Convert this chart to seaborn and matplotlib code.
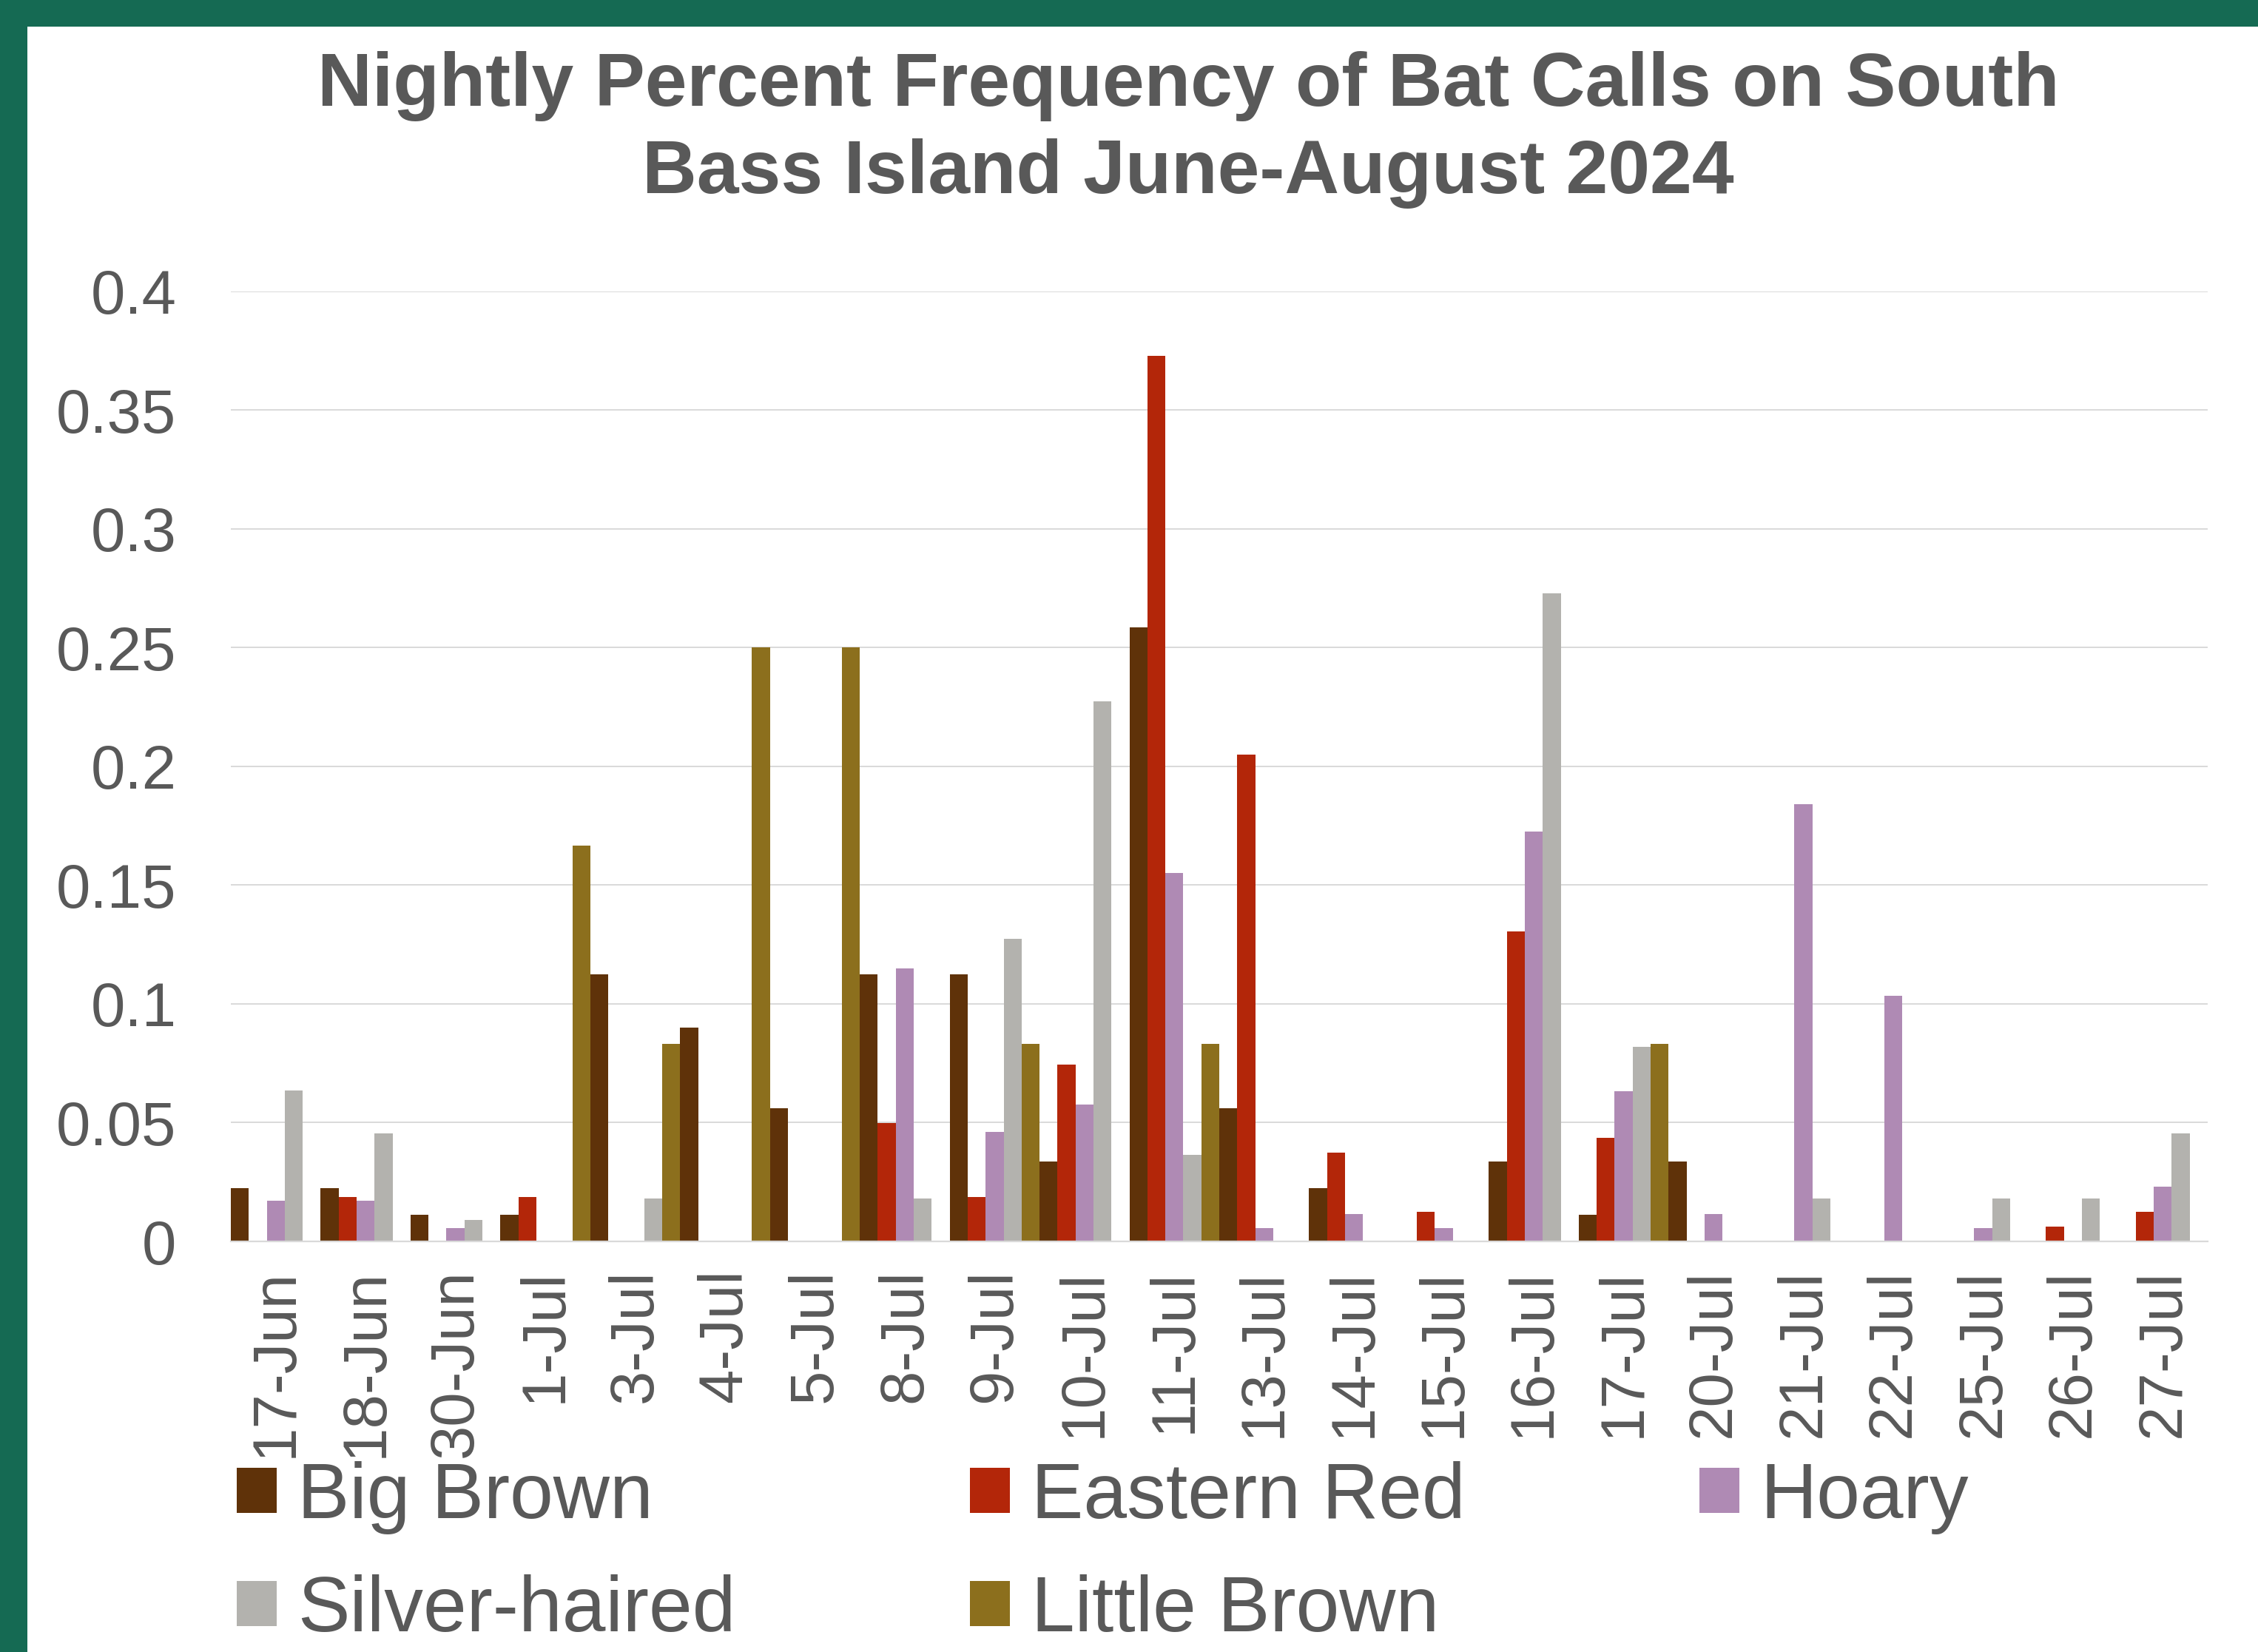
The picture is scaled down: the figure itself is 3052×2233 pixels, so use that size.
import matplotlib
matplotlib.use("Agg")
import matplotlib.pyplot as plt
from matplotlib.patches import Rectangle, Patch
from matplotlib.ticker import FuncFormatter, MultipleLocator
import numpy as np
import pandas as pd
import seaborn as sns

# ---- data -------------------------------------------------------------
dates = ["17-Jun", "18-Jun", "30-Jun", "1-Jul", "3-Jul", "4-Jul", "5-Jul",
         "8-Jul", "9-Jul", "10-Jul", "11-Jul", "13-Jul", "14-Jul", "15-Jul",
         "16-Jul", "17-Jul", "20-Jul", "21-Jul", "22-Jul", "25-Jul",
         "26-Jul", "27-Jul"]

species = ["Big Brown", "Eastern Red", "Hoary", "Silver-haired", "Little Brown"]

big_brown = [0.0225, 0.0225, 0.0112, 0.0112, 0.1124, 0.0899, 0.0562, 0.1124,
             0.1124, 0.0337, 0.2584, 0.0562, 0.0225, 0.0, 0.0337, 0.0112,
             0.0337, 0.0, 0.0, 0.0, 0.0, 0.0]
eastern_red = [0.0, 0.0186, 0.0, 0.0186, 0.0, 0.0, 0.0, 0.0497, 0.0186,
               0.0745, 0.3727, 0.2050, 0.0373, 0.0124, 0.1304, 0.0435, 0.0,
               0.0, 0.0, 0.0, 0.0062, 0.0124]
hoary = [0.0172, 0.0172, 0.0057, 0.0, 0.0, 0.0, 0.0, 0.1149, 0.0460, 0.0575,
         0.1552, 0.0057, 0.0115, 0.0057, 0.1724, 0.0632, 0.0115, 0.1839,
         0.1034, 0.0057, 0.0, 0.0230]
silver_haired = [0.0636, 0.0455, 0.0091, 0.0, 0.0182, 0.0, 0.0, 0.0182,
                 0.1273, 0.2273, 0.0364, 0.0, 0.0, 0.0, 0.2727, 0.0818, 0.0,
                 0.0182, 0.0, 0.0182, 0.0182, 0.0455]
little_brown = [0.0, 0.0, 0.0, 0.1667, 0.0833, 0.25, 0.25, 0.0, 0.0833, 0.0,
                0.0833, 0.0, 0.0, 0.0, 0.0, 0.0833, 0.0, 0.0, 0.0, 0.0, 0.0,
                0.0]

colors = ["#5F3209", "#B32609", "#AF8AB4", "#B3B2AE", "#8C6F1D"]

title_lines = ["Nightly Percent Frequency of Bat Calls on South",
               "Bass Island June-August 2024"]

# ---- long table for seaborn -----------------------------------------
series = [big_brown, eastern_red, hoary, silver_haired, little_brown]
df = pd.DataFrame({
    "Date": np.tile(dates, len(species)),
    "Species": np.repeat(species, len(dates)),
    "Frequency": np.concatenate(series),
})

# ---- style ------------------------------------------------------------
sns.set_style("white")
plt.rcParams["font.family"] = ["Liberation Sans", "DejaVu Sans"]
text_color = "#595959"
grid_color = "#D9D9D9"
frame_green = "#156A53"

W, H = 3052, 2233
fig = plt.figure(figsize=(W / 100, H / 100), dpi=100)
fig.patch.set_facecolor("white")

# green frame along the left and top edges
fig.patches.append(Rectangle((0, 0), 37 / W, 1, transform=fig.transFigure,
                             facecolor=frame_green, edgecolor="none", zorder=0))
fig.patches.append(Rectangle((0, 1 - 36 / H), 1, 36 / H,
                             transform=fig.transFigure,
                             facecolor=frame_green, edgecolor="none", zorder=0))

ax = fig.add_axes([312 / W, 1 - 1678 / H, 2672 / W, (1678 - 393.5) / H])

sns.barplot(data=df, x="Date", y="Frequency", hue="Species",
            order=dates, hue_order=species, palette=colors, saturation=1,
            width=1.0, errorbar=None, linewidth=0, legend=False, ax=ax)

ax.set_xlim(-0.5, len(dates) - 0.5)
ax.set_ylim(0, 0.4)
ax.yaxis.set_major_locator(MultipleLocator(0.05))
ax.yaxis.set_major_formatter(FuncFormatter(lambda v, _: f"{v:g}"))
ax.set_axisbelow(True)
ax.grid(axis="y", color=grid_color, linewidth=1.4)
ax.grid(axis="x", visible=False)
for side in ["top", "right", "left"]:
    ax.spines[side].set_visible(False)
ax.spines["bottom"].set_color(grid_color)
ax.spines["bottom"].set_linewidth(1.6)

ax.set_xlabel("")
ax.set_ylabel("")
ax.tick_params(axis="x", length=0, pad=27, labelsize=60, labelcolor=text_color,
               labelrotation=90)
ax.tick_params(axis="y", length=0, pad=53, labelsize=60, labelcolor=text_color)

# two-line bold title
fig.text(1606 / W, 1 - 143 / H, title_lines[0], ha="center", va="baseline",
         fontsize=73.5, fontweight="bold", color=text_color)
fig.text(1606 / W, 1 - 261 / H, title_lines[1], ha="center", va="baseline",
         fontsize=73.5, fontweight="bold", color=text_color)

# legend laid out row by row: Big Brown, Eastern Red, Hoary / Silver-haired, Little Brown
handles = [Patch(facecolor=c, edgecolor="none", label=s)
           for s, c in zip(species, colors)]
order = [0, 3, 1, 4, 2]
fig.legend([handles[i] for i in order], [species[i] for i in order],
           loc="upper left", bbox_to_anchor=(320 / W, 1 - 1975 / H),
           ncol=3, frameon=False, fontsize=76, labelcolor=text_color,
           handlelength=0.51, handleheight=0.51, handletextpad=0.27,
           columnspacing=3.0, labelspacing=0.51, borderpad=0,
           borderaxespad=0)

fig.savefig("out.png", dpi=100, facecolor="white")
